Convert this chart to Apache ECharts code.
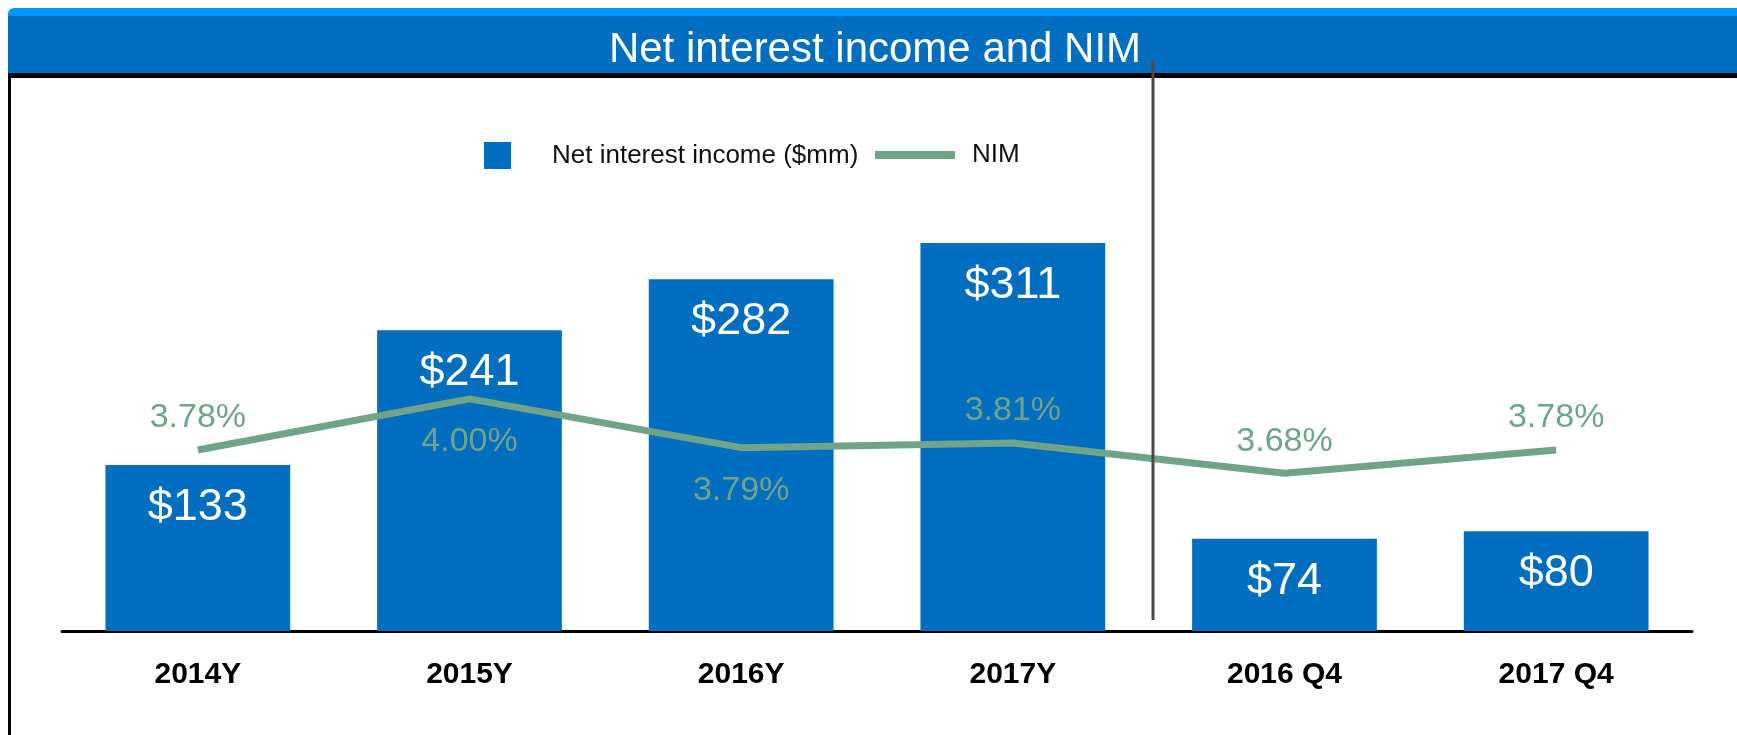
<!DOCTYPE html>
<html>
<head>
<meta charset="utf-8">
<script src="https://cdn.jsdelivr.net/npm/echarts@6/dist/echarts.min.js"></script>
<style>
  html, body { margin: 0; padding: 0; background: #fff; }
  #chart { width: 1737px; height: 735px; }
</style>
</head>
<body>
<div id="chart"></div>
<script>
const categories = ['2014Y', '2015Y', '2016Y', '2017Y', '2016 Q4', '2017 Q4']
const incomeValues = [133, 241, 282, 311, 74, 80]
const nimValues = [3.78, 4.0, 3.79, 3.81, 3.68, 3.78]

const BAR_BLUE = '#006EBE'
const NIM_GREEN = '#70A488'
const FONT = "'Liberation Sans', Arial, sans-serif"

// NIM labels sit under the line for 2015Y and 2016Y, above it elsewhere
const labelBelow = ['2015Y', '2016Y']

const nimData = nimValues.map((v, i) => ({
  value: v,
  label: labelBelow.includes(categories[i])
    ? { position: 'bottom', distance: 26 }
    : { position: 'top', distance: 15 }
}))

const chart = echarts.init(document.getElementById('chart'))

chart.setOption({
  backgroundColor: '#fff',
  animation: false,
  grid: { left: 62, right: 45, top: 132, bottom: 104 },
  legend: [
    {
      left: 479,
      top: 137,
      itemWidth: 27,
      itemHeight: 27,
      data: [{ name: 'Net interest income ($mm)', icon: 'rect' }],
      textStyle: { fontFamily: FONT, fontSize: 26, color: '#111', padding: [0, 0, 0, 36] }
    },
    {
      left: 870,
      top: 137,
      itemWidth: 80,
      itemHeight: 8,
      data: [{ name: 'NIM', icon: 'rect' }],
      textStyle: { fontFamily: FONT, fontSize: 26, color: '#111', padding: [0, 0, 0, 12] }
    }
  ],
  xAxis: {
    type: 'category',
    data: categories,
    axisTick: { show: false },
    axisLine: { lineStyle: { color: '#000', width: 3 } },
    axisLabel: {
      margin: 29,
      fontFamily: FONT,
      fontSize: 30,
      fontWeight: 'bold',
      color: '#000'
    }
  },
  yAxis: [
    { type: 'value', min: 0, max: 400, show: false, splitLine: { show: false } },
    { type: 'value', min: 3, max: 5.15, show: false, splitLine: { show: false } }
  ],
  series: [
    {
      name: 'Net interest income ($mm)',
      type: 'bar',
      data: incomeValues,
      barWidth: '68%',
      itemStyle: { color: BAR_BLUE },
      label: {
        show: true,
        position: 'insideTop',
        distance: 20,
        formatter: (p) => '$' + p.value,
        fontFamily: FONT,
        fontSize: 45,
        color: '#fff'
      }
    },
    {
      name: 'NIM',
      type: 'line',
      yAxisIndex: 1,
      data: nimData,
      symbol: 'circle',
      symbolSize: 0,
      showSymbol: true,
      z: 3,
      lineStyle: { color: NIM_GREEN, width: 7 },
      itemStyle: { color: NIM_GREEN },
      label: {
        show: true,
        formatter: (p) => p.value.toFixed(2) + '%',
        fontFamily: FONT,
        fontSize: 34,
        color: NIM_GREEN
      }
    }
  ],
  graphic: [
    { type: 'rect', z: 10, shape: { x: 8, y: 8, width: 1729, height: 12, r: [6, 0, 0, 0] }, style: { fill: '#0096FF' } },
    { type: 'rect', z: 10, shape: { x: 8, y: 16, width: 1729, height: 58 }, style: { fill: '#006EBE' } },
    { type: 'rect', z: 10, shape: { x: 8, y: 73, width: 1729, height: 5 }, style: { fill: '#000' } },
    { type: 'rect', z: 10, shape: { x: 8, y: 73, width: 3, height: 662 }, style: { fill: '#000' } },
    {
      type: 'text',
      z: 11,
      x: 875,
      y: 50,
      style: {
        text: 'Net interest income and NIM',
        fill: '#fff',
        font: '42px ' + FONT,
        align: 'center',
        verticalAlign: 'middle'
      }
    },
    {
      type: 'line',
      z: 12,
      shape: { x1: 1153, y1: 61, x2: 1153, y2: 620 },
      style: { stroke: '#4a4a4a', lineWidth: 3 }
    }
  ]
})
</script>
</body>
</html>
